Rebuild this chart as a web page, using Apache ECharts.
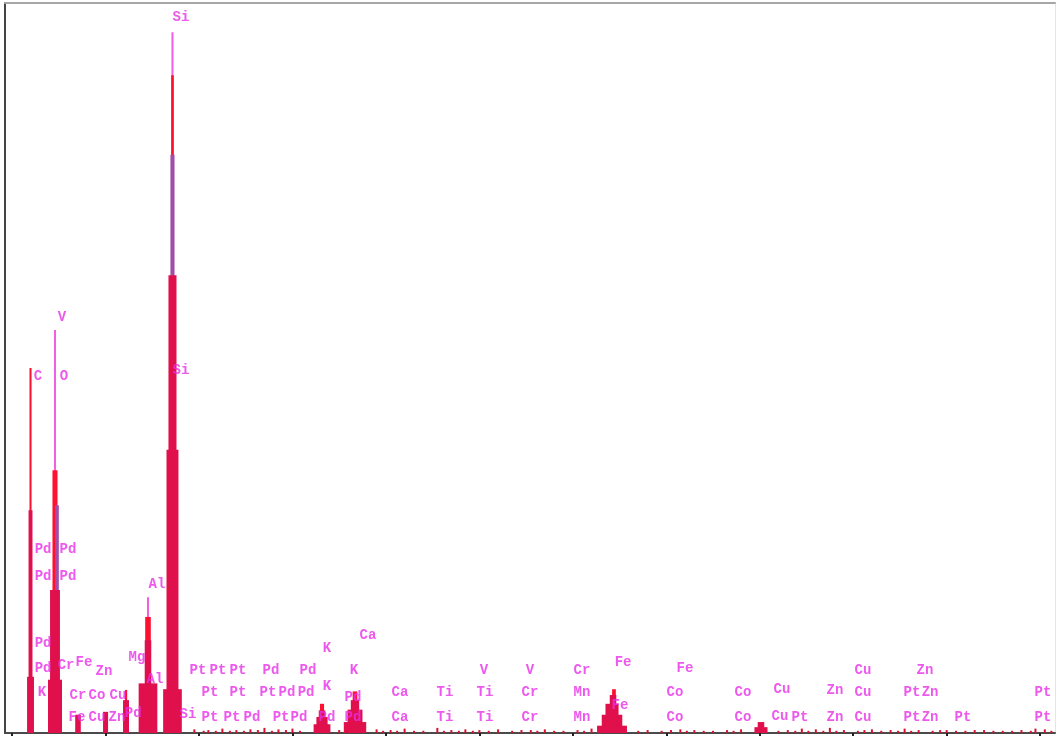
<!DOCTYPE html>
<html>
<head>
<meta charset="utf-8">
<script src="https://cdn.jsdelivr.net/npm/echarts@6/dist/echarts.min.js"></script>
<style>
html,body{margin:0;padding:0;background:#fff;}
#chart{width:1056px;height:740px;}
</style>
</head>
<body>
<div id="chart"></div>
<script>
// ---- data (energy in keV, intensity in counts) ----
const energyTicks = [0,1,2,3,4,5,6,7,8,9,10,11];

// peak layers: [centre keV, half width keV, counts]
const pinkPeaks = [
  [1.716, 0.011, 960],
  [0.459, 0.011, 552],
  [1.454, 0.011, 186]
];
const redPeaks = [
  [1.716, 0.014, 901],
  [0.197, 0.011, 500],
  [0.459, 0.027, 360],
  [1.454, 0.030, 159],
  [1.219, 0.012, 59],
  [3.316, 0.022, 40],
  [3.669, 0.025, 57],
  [6.440, 0.020, 60]
];
const purplePeaks = [
  [1.716, 0.022, 792],
  [0.480, 0.020, 312]
];
const crimsonPeaks = [
  [1.716, 0.043, 627],
  [1.716, 0.064, 388],
  [1.716, 0.100, 60],
  [0.197, 0.021, 305],
  [0.197, 0.037, 77],
  [0.459, 0.053, 196],
  [0.459, 0.075, 73],
  [1.454, 0.035, 127],
  [1.454, 0.100, 68],
  [1.219, 0.032, 45],
  [1.000, 0.027, 29],
  [0.705, 0.030, 25],
  [3.316, 0.090, 12],
  [3.316, 0.060, 22],
  [3.316, 0.035, 31],
  [3.669, 0.120, 15],
  [3.669, 0.080, 32],
  [3.669, 0.045, 45],
  [6.419, 0.160, 10],
  [6.419, 0.110, 25],
  [6.419, 0.070, 40],
  [6.430, 0.035, 52],
  [8.013, 0.070, 8],
  [8.013, 0.035, 15]
];
// background: [keV, counts]
const background = [
  [1.95,5],[2.05,3],[2.10,4],[2.18,3],[2.25,6],[2.33,3],[2.40,4],[2.48,3],[2.55,5],[2.63,4],[2.70,7],[2.78,3],[2.85,5],[2.93,4],[3.00,6],
  [3.08,3],[3.50,4],[3.58,3],[3.90,5],[3.97,3],[4.05,4],[4.12,3],[4.20,6],[4.30,3],[4.40,3],[4.55,7],[4.62,3],[4.70,4],[4.78,3],[4.85,5],
  [4.93,3],[5.00,4],[5.10,3],[5.20,5],[5.35,3],[5.45,4],[5.55,4],[5.62,3],[5.70,5],[5.80,3],[5.90,3],[6.05,4],[6.12,3],[6.20,6],[6.70,3],
  [6.80,4],[6.95,3],[7.05,4],[7.15,5],[7.22,3],[7.30,4],[7.40,3],[7.50,3],[7.65,4],[7.72,3],[7.80,5],[8.20,3],[8.30,4],[8.38,3],[8.45,6],
  [8.52,3],[8.60,5],[8.68,3],[8.75,7],[8.82,3],[8.90,4],[9.05,3],[9.12,4],[9.20,5],[9.30,3],[9.40,4],[9.48,3],[9.55,6],[9.62,3],[9.70,4],
  [9.85,3],[9.93,4],[10.00,4],[10.10,3],[10.20,3],[10.30,4],[10.40,4],[10.50,3],[10.60,3],[10.70,3],[10.80,4],[10.90,3],[10.95,6],[11.05,5],[11.12,3]
];

const labelNames = [
  'Si','V','C','O','Si','Pd','Pd','Pd','Pd','Al','Ca','Pd','K','Fe','Cr','Mg','Zn',
  'Pt','Pt','Pt','Pd','Pd','K','V','V','Cr','Fe','Fe','Cu','Zn','Cu',
  'Pd','K','Cr','Co','Cu','Al','Pt','Pt','Pt','Pd','Pd','K','Pd','Ca','Ti','Ti','Cr','Mn','Co','Co','Zn','Cu','Pt','Zn','Pt',
  'Fe','Cu','Zn','Pd','Si','Pt','Pt','Pd','Pt','Pd','Pd','Pd','Ca','Ti','Ti','Cr','Mn','Fe','Co','Co','Cu','Pt','Zn','Cu','Pt','Zn','Pt','Pt'
];
const labelKeV = [
  1.807,0.534,0.277,0.555,1.807,0.331,0.598,0.331,0.598,1.550,3.808,0.331,3.369,0.769,0.577,1.336,0.983,
  1.989,2.203,2.417,2.770,3.166,3.658,5.049,5.541,6.098,6.537,7.200,9.104,9.768,8.238,
  0.331,0.320,0.705,0.908,1.133,1.529,2.117,2.417,2.738,2.941,3.145,3.369,3.647,4.150,4.632,5.060,5.541,6.098,7.093,7.820,8.805,9.104,9.629,9.822,11.030,
  0.694,0.908,1.122,1.295,1.882,2.117,2.353,2.567,2.878,3.070,3.369,3.647,4.150,4.632,5.060,5.541,6.098,6.504,7.093,7.820,8.216,8.430,8.805,9.104,9.629,9.822,10.174,11.030
];
const labelCounts = [
  980,569,489,489,496,251,251,214,214,203,133,122,116,97,92,104,84,
  85,85,85,85,85,85,86,86,85,96,89,85,85,60,
  89,55,52,52,52,73,55,55,55,55,55,64,48,56,56,56,55,55,55,55,58,55,55,55,55,
  21,21,21,27,26,21,21,21,21,21,21,21,21,21,21,21,21,38,21,21,23,21,21,21,21,21,21,21
];

// ---- chart ----
const chart = echarts.init(document.getElementById('chart'), null, {renderer:'canvas'});

function layerSeries(data, color) {
  return {
    type: 'custom',
    xAxisIndex: 0, yAxisIndex: 0,
    silent: true,
    data: data,
    renderItem: function (params, api) {
      const c = api.value(0), hw = api.value(1), h = api.value(2);
      const p0 = api.coord([c - hw, h]);
      const p1 = api.coord([c + hw, 0]);
      const w = Math.max(p1[0] - p0[0], 1.3);
      return {
        type: 'rect',
        shape: {x: (p0[0] + p1[0]) / 2 - w / 2, y: p0[1], width: w, height: p1[1] - p0[1]},
        style: {fill: color}
      };
    }
  };
}

const labelData = labelNames.map((n, i) => ({name: n, value: [labelKeV[i], labelCounts[i]]}));

const option = {
  animation: false,
  backgroundColor: '#ffffff',
  grid: {left: 5, right: 1, top: 3, bottom: 7, containLabel: false},
  xAxis: [
    {
      type: 'value', min: -0.076, max: 11.159,
      axisLine: {show: true, onZero: false, lineStyle: {color: '#4a4a4a', width: 2}},
      axisTick: {show: true, customValues: energyTicks, length: 3, inside: false, lineStyle: {color: '#222', width: 2}},
      axisLabel: {show: false},
      splitLine: {show: false}
    },
    {
      type: 'value', position: 'top', min: -0.076, max: 11.159,
      axisLine: {show: true, onZero: false, lineStyle: {color: '#a6a6a6', width: 2}},
      axisTick: {show: false}, axisLabel: {show: false}, splitLine: {show: false}
    }
  ],
  yAxis: [
    {
      type: 'value', min: 0, max: 1000,
      axisLine: {show: true, onZero: false, lineStyle: {color: '#444', width: 2}},
      axisTick: {show: false}, axisLabel: {show: false}, splitLine: {show: false}
    },
    {
      type: 'value', position: 'right', min: 0, max: 1000,
      axisLine: {show: true, onZero: false, lineStyle: {color: '#e4e4e4', width: 1}},
      axisTick: {show: false}, axisLabel: {show: false}, splitLine: {show: false}
    }
  ],
  series: [
    {
      type: 'bar', xAxisIndex: 0, yAxisIndex: 0, silent: true,
      data: background, barWidth: 2,
      itemStyle: {color: '#d8102e'}
    },
    layerSeries(pinkPeaks, '#f060e0'),
    layerSeries(redPeaks, '#ff1030'),
    layerSeries(purplePeaks, '#a04ea8'),
    layerSeries(crimsonPeaks, '#e0104c'),
    {
      type: 'scatter', xAxisIndex: 0, yAxisIndex: 0, silent: true,
      symbolSize: 0,
      data: labelData,
      label: {
        show: true, position: 'inside', formatter: '{b}',
        color: '#e82ee8', fontFamily: 'Liberation Mono', fontSize: 14, fontWeight: 'bold'
      },
      labelLayout: {hideOverlap: false}
    }
  ]
};
chart.setOption(option);
</script>
</body>
</html>
